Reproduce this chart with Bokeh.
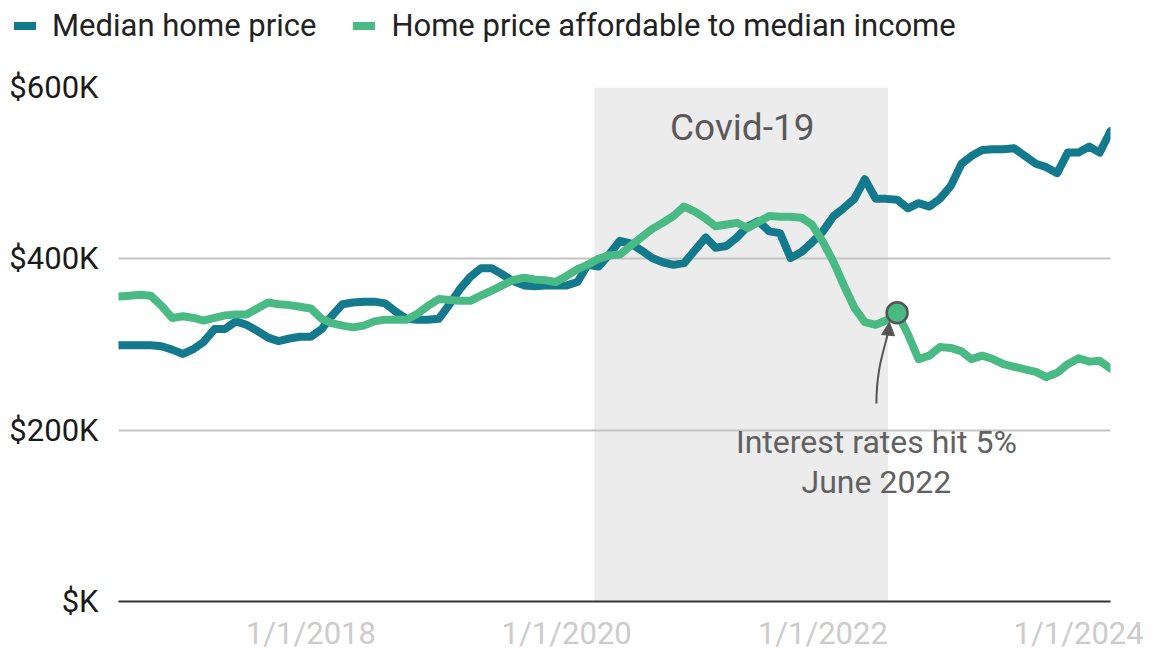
import pandas as pd
from bokeh.plotting import figure
from bokeh.layouts import column
from bokeh.models import (Range1d, FixedTicker, BoxAnnotation, Label, Div,
                          Arrow, NormalHead, ColumnDataSource)
from bokeh.embed import file_html
from bokeh.resources import INLINE

# ---------------- data (values in $K, monthly) ----------------
first_month = "2016-07-01"
n_months = 94
median_home_price = [
    299, 299, 299, 299, 298, 294, 289, 295, 303, 318,
    318, 327, 323, 316, 308, 304, 307, 309, 309, 318,
    333, 347, 349, 350, 350, 348, 338, 330, 329, 329,
    330, 347, 364, 379, 389, 389, 382, 374, 369, 368,
    369, 369, 369, 373, 393, 391, 405, 421, 418, 410,
    401, 396, 393, 395, 410, 425, 413, 415, 425, 438,
    444, 432, 430, 401, 408, 419, 432, 450, 459, 470,
    493, 470, 470, 469, 459, 465, 461, 470, 485, 511,
    520, 527, 528, 528, 529, 520, 511, 507, 500, 524,
    524, 531, 524, 549,
]
affordable_price = [
    356, 357, 358, 357, 345, 331, 333, 331, 328, 331,
    334, 335, 335, 342, 349, 347, 346, 344, 342, 330,
    325, 322, 320, 322, 327, 329, 329, 329, 336, 345,
    353, 352, 351, 351, 357, 363, 369, 375, 378, 376,
    375, 373, 380, 388, 393, 400, 404, 405, 415, 425,
    435, 442, 450, 461, 455, 447, 438, 440, 442, 436,
    443, 450, 449, 449, 448, 440, 420, 396, 370, 343,
    326, 323, 328, 337, 312, 283, 287, 297, 296, 292,
    283, 287, 283, 277, 274, 271, 268, 262, 267, 277,
    284, 280, 281, 272,
]
series_names = ["Median home price", "Home price affordable to median income"]
series_colors = ["#127a8c", "#4aba84"]

y_ticks = [0, 200, 400, 600]
y_tick_labels = ["$K", "$200K", "$400K", "$600K"]
x_tick_dates = ["2018-01-01", "2020-01-01", "2022-01-01", "2024-01-01"]
x_tick_labels = ["1/1/2018", "1/1/2020", "1/1/2022", "1/1/2024"]

covid_start, covid_end = "2020-03-20", "2022-07-06"
highlight_month = "2022-08-01"
annotation_lines = ["Interest rates hit 5%", "June 2022"]


def ms(d):
    return pd.Timestamp(d).value / 1e6


months = pd.date_range(first_month, periods=n_months, freq="MS")
src = ColumnDataSource(dict(month=months, median=median_home_price,
                            afford=affordable_price))

FONT = "Roboto"
W = 1159
LEG_H = 44

# ---------------- legend strip (HTML) ----------------
items_html = "".join(
    f'<span style="display:inline-flex;align-items:center;margin-right:37px;">'
    f'<span style="display:inline-block;width:22px;height:8px;background:{c};'
    f'margin-right:16px;"></span>{n}</span>'
    for n, c in zip(series_names, series_colors))
legend_div = Div(
    text=(f'<div style="font-family:Roboto;font-size:31px;color:#222222;'
          f'padding-left:14px;padding-top:2px;line-height:36px;'
          f'white-space:nowrap;">{items_html}</div>'),
    width=W, height=LEG_H, margin=0)

# ---------------- main chart ----------------
p = figure(width=W, height=654 - LEG_H, x_axis_type="datetime",
           x_range=Range1d(months[0], months[-1]), y_range=Range1d(0, 600),
           output_backend="svg", toolbar_location=None,
           min_border_left=118, min_border_right=49,
           min_border_top=87 - LEG_H, min_border_bottom=40)
p.outline_line_color = None
p.background_fill_color = "white"

band = BoxAnnotation(left=ms(covid_start), right=ms(covid_end),
                     fill_color="#ececec", fill_alpha=1.0, line_color=None,
                     level="image")
p.add_layout(band)

p.xgrid.grid_line_color = None
p.ygrid.ticker = FixedTicker(ticks=y_ticks)
p.ygrid.grid_line_color = "#c4c4c4"
p.ygrid.grid_line_width = 2

p.yaxis.ticker = FixedTicker(ticks=y_ticks)
p.yaxis.major_label_overrides = {t: l for t, l in zip(y_ticks, y_tick_labels)}
p.yaxis.axis_line_color = None
p.yaxis.major_tick_line_color = None
p.yaxis.minor_tick_line_color = None
p.yaxis.major_label_text_font = FONT
p.yaxis.major_label_text_font_size = "31px"
p.yaxis.major_label_text_color = "#1a1a1a"
p.yaxis.major_label_standoff = 14

xt = [ms(d) for d in x_tick_dates]
p.xaxis.ticker = FixedTicker(ticks=xt)
p.xaxis.major_label_overrides = {t: l for t, l in zip(xt, x_tick_labels)}
p.xaxis.axis_line_color = "#333333"
p.xaxis.axis_line_width = 2
p.xaxis.major_tick_line_color = None
p.xaxis.minor_tick_line_color = None
p.xaxis.major_label_text_font = FONT
p.xaxis.major_label_text_font_size = "31px"
p.xaxis.major_label_text_color = "#cccccc"
p.xaxis.major_label_standoff = 7

p.line("month", "median", source=src, line_color=series_colors[0],
       line_width=8, line_join="round", line_cap="round")
p.line("month", "afford", source=src, line_color=series_colors[1],
       line_width=8, line_join="round", line_cap="round")

hi_idx = list(months).index(pd.Timestamp(highlight_month))
p.scatter([months[hi_idx]], [affordable_price[hi_idx]], size=21,
          fill_color=series_colors[1], line_color="#555555", line_width=2.5)

p.add_layout(Label(x=(ms(covid_start) + ms(covid_end)) / 2 + 3 * 86400000, y=553,
                   text="Covid-19", text_font=FONT, text_font_size="37px",
                   text_color="#595959", text_align="center",
                   text_baseline="middle"))

ann_x = ms("2022-06-03")
p.add_layout(Label(x=ann_x, y=186, text=annotation_lines[0], text_font=FONT,
                   text_font_size="32px", text_color="#616161",
                   text_align="center", text_baseline="middle"))
p.add_layout(Label(x=ann_x, y=140, text=annotation_lines[1], text_font=FONT,
                   text_font_size="32px", text_color="#616161",
                   text_align="center", text_baseline="middle"))

p.bezier(x0=[ann_x], y0=[231], x1=[ms("2022-07-07")], y1=[316],
         cx0=[ann_x], cy0=[275], cx1=[ms("2022-06-28")], cy1=[296],
         line_color="#555555", line_width=2)
p.add_layout(Arrow(end=NormalHead(size=13, fill_color="#555555",
                                  line_color="#555555"),
                   x_start=ms("2022-07-07"), y_start=314,
                   x_end=ms("2022-07-10"), y_end=326,
                   line_color="#555555", line_width=2))

layout = column(legend_div, p, spacing=0)
open("out.html", "w").write(file_html(layout, INLINE))
